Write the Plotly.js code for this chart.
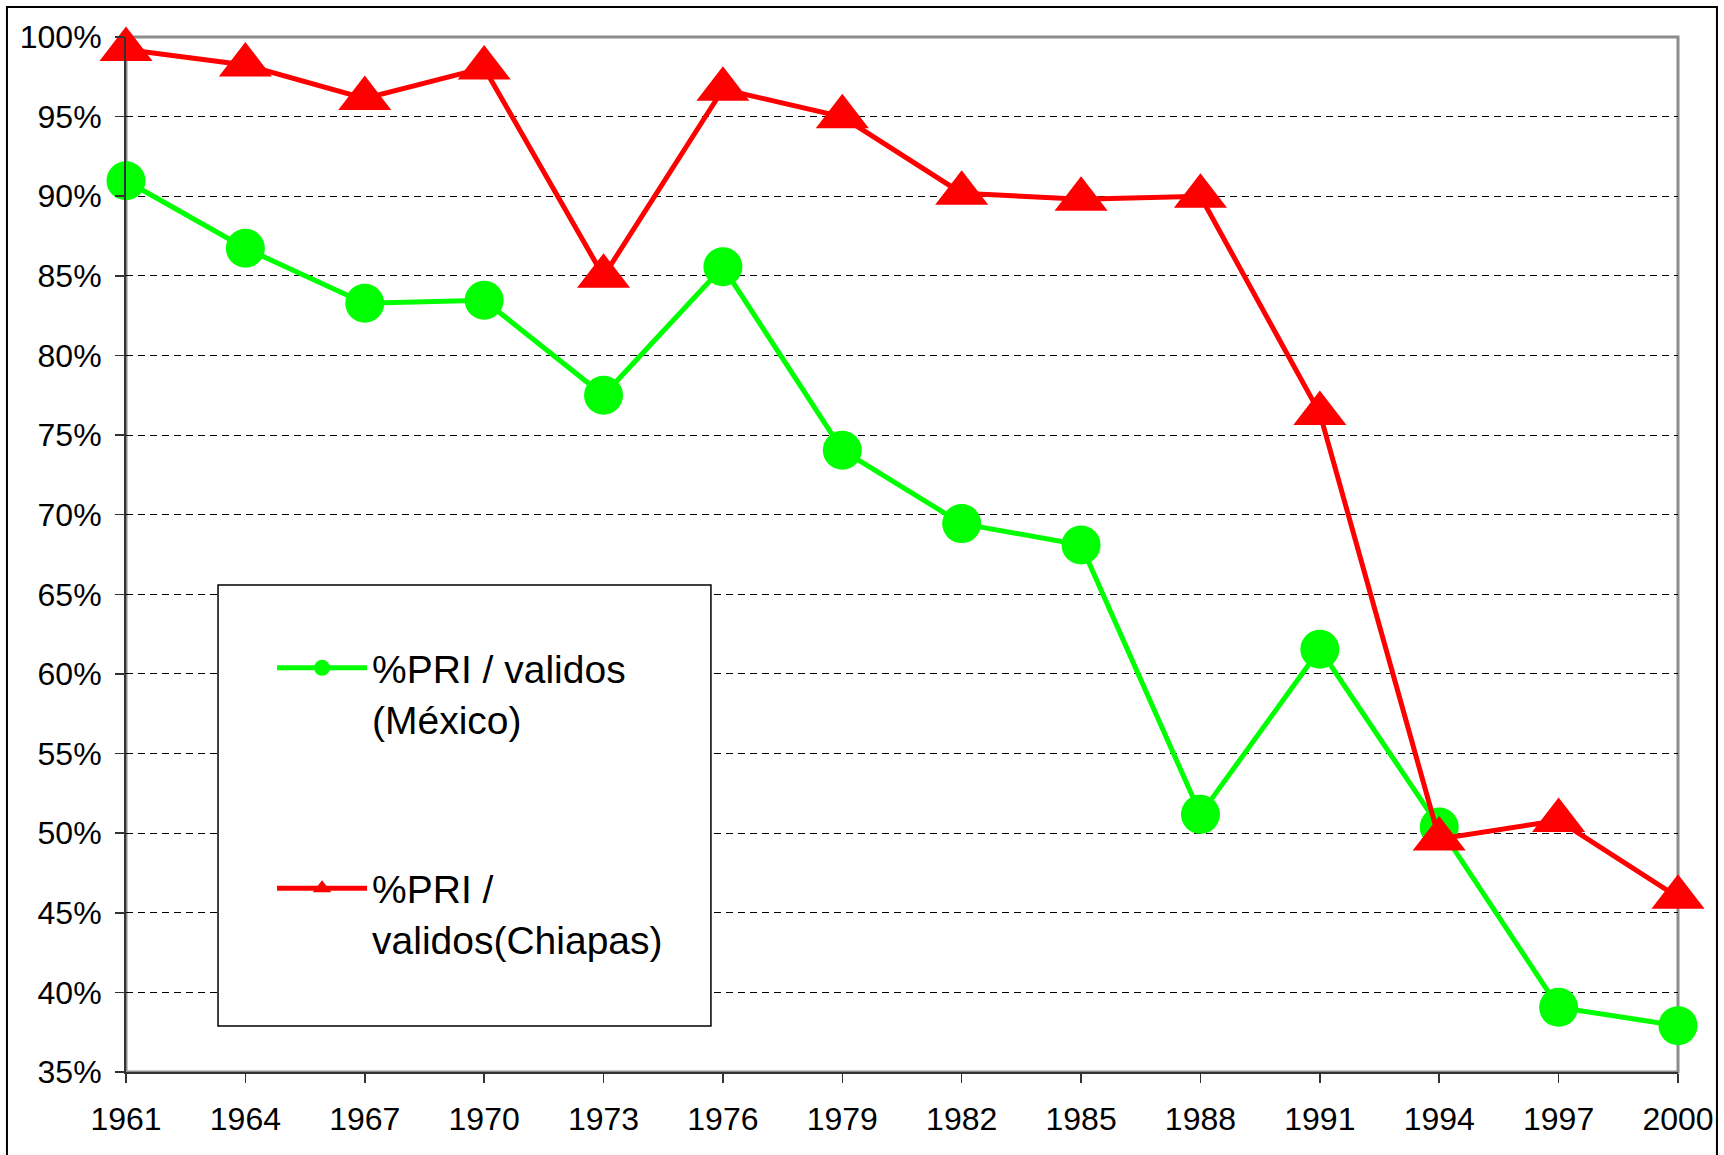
<!DOCTYPE html>
<html>
<head>
<meta charset="utf-8">
<script src="https://cdn.plot.ly/plotly-3.0.1.min.js"></script>
<style>
  html, body { margin: 0; padding: 0; background: #ffffff; }
  #chart { width: 1724px; height: 1155px; }
</style>
</head>
<body>
<div id="chart"></div>
<script>
// ---- data ----
const years = [1961, 1964, 1967, 1970, 1973, 1976, 1979, 1982, 1985, 1988, 1991, 1994, 1997, 2000];
const mexicoPRI = [0.9097, 0.8673, 0.8328, 0.8347, 0.7750, 0.8557, 0.7405, 0.6944, 0.6810, 0.5118, 0.6155, 0.5039, 0.3906, 0.3791];
const chiapasPRI = [0.9921, 0.9824, 0.9614, 0.9806, 0.8497, 0.9672, 0.9499, 0.9019, 0.8981, 0.9000, 0.7636, 0.4964, 0.5080, 0.4598];
const seriesNames = ["%PRI / validos<br>(México)", "%PRI /<br>validos(Chiapas)"];
const yTicks = [0.35, 0.40, 0.45, 0.50, 0.55, 0.60, 0.65, 0.70, 0.75, 0.80, 0.85, 0.90, 0.95, 1.00];

const FONT = "Liberation Sans, Arial, Helvetica, sans-serif";

const traces = [
  {
    x: years, y: mexicoPRI, name: seriesNames[0], legendgroup: "mx",
    type: "scatter", mode: "lines+markers", cliponaxis: false,
    line: { color: "#00ff00", width: 5 },
    marker: { color: "#00ff00", symbol: "circle", size: 39 }
  },
  {
    x: years, y: chiapasPRI, name: seriesNames[1], legendgroup: "ch",
    type: "scatter", mode: "lines+markers", cliponaxis: false,
    line: { color: "#ff0000", width: 5 },
    marker: { color: "#ff0000", symbol: "triangle-up", size: 46 }
  }
];

const layout = {
  width: 1724, height: 1155,
  margin: { l: 126, r: 46, t: 37, b: 83, pad: 0 },
  paper_bgcolor: "#ffffff", plot_bgcolor: "#ffffff",
  font: { family: FONT, size: 32, color: "#000000" },
  showlegend: true,
  legend: {
    x: 0.0941, y: 0.4213, xanchor: "left", yanchor: "top",
    bgcolor: "rgba(0,0,0,0)", borderwidth: 0,
    font: { family: FONT, size: 39, color: "#000000" },
    itemwidth: 90, valign: "top",
    traceorder: "grouped", tracegroupgap: 116
  },
  xaxis: {
    range: [1961, 2000], tickmode: "array", tickvals: years, ticktext: years.map(String),
    showgrid: false, zeroline: false,
    showline: true, linecolor: "#333333", linewidth: 2,
    ticks: "outside", ticklen: 9, tickwidth: 1.5, tickcolor: "#333333",
    tickfont: { family: FONT, size: 32, color: "#000000" },
    ticklabelstandoff: 9
  },
  xaxis2: {
    overlaying: "x", anchor: "y", range: [1961, 2000], tickmode: "array", tickvals: years,
    showticklabels: false, showgrid: false, zeroline: false, showline: false,
    ticks: "inside", ticklen: 9, tickwidth: 1.5, tickcolor: "#333333"
  },
  yaxis: {
    range: [0.35, 1.0], tickmode: "array", tickvals: yTicks, tickformat: ".0%",
    showgrid: true, gridcolor: "#000000", gridwidth: 1, griddash: "7px,5px",
    zeroline: false,
    showline: true, linecolor: "#333333", linewidth: 2,
    ticks: "outside", ticklen: 9, tickwidth: 1.5, tickcolor: "#333333",
    tickfont: { family: FONT, size: 32, color: "#000000" },
    ticklabelstandoff: 7
  },
  shapes: [
    // plot area border (gray)
    { type: "rect", xref: "paper", yref: "paper", x0: 0, x1: 1, y0: 0, y1: 1,
      line: { color: "#8c8c8c", width: 3 }, fillcolor: "rgba(0,0,0,0)", layer: "below" },
    // outer chart border
    { type: "rect", xref: "paper", yref: "paper", x0: -0.0767, x1: 1.0251, y0: -0.09, y1: 1.029,
      line: { color: "#000000", width: 2 }, fillcolor: "rgba(0,0,0,0)", layer: "below" },
    // legend box
    { type: "rect", xref: "paper", yref: "paper", x0: 0.0593, x1: 0.3769, y0: 0.0444, y1: 0.4705,
      line: { color: "#000000", width: 1.5 }, fillcolor: "#ffffff", layer: "above" }
  ]
};

Plotly.newPlot("chart", traces, layout, { staticPlot: true, displayModeBar: false });
</script>
</body>
</html>
